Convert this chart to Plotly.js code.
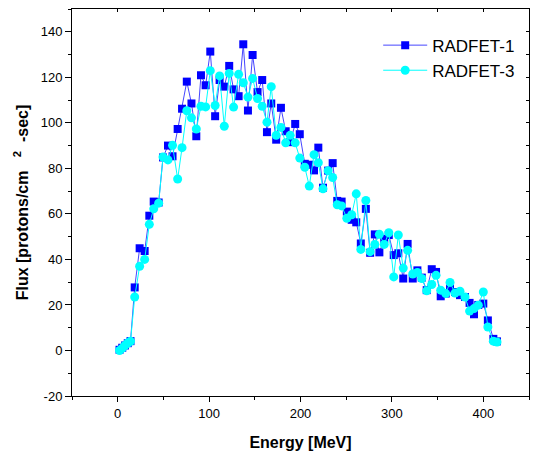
<!DOCTYPE html>
<html>
<head>
<meta charset="utf-8">
<script src="https://cdn.plot.ly/plotly-3.0.1.min.js"></script>
<style>html,body{margin:0;padding:0;background:#fff;}#chart{width:538px;height:458px;}</style>
</head>
<body>
<div id="chart"></div>
<script>
const energy = [2,5,8,11,14,18.6,24,29.5,34.6,39.4,44.8,49.6,55,60,65.6,70.4,75.6,80.7,86,91.1,96.2,101.3,106.6,111.5,116.6,122,126.8,132.3,137.4,142.5,147.6,153,158.1,163.3,168,173.4,178.6,183.8,188.7,194.2,199.2,204.7,209.6,214.8,219.5,224.6,230.2,235.2,240.2,245,250.7,256,261,266,271.5,276.2,281.3,286.3,291.6,296.6,302,307,312.4,317.2,322.8,327.9,332.7,338.1,343.6,348.3,353.4,358.9,363.6,369,374.5,380,385,389.8,394.5,400,405,411,415];
const radfet1 = [0.3,1.2,2.2,3.2,4.1,27.7,44.9,43.7,59.2,65.4,65,84.8,90,85.3,97.3,106.2,118.1,108.5,94.1,120.9,116.5,131.3,102.9,118.8,115.9,125,114.7,111.7,134.5,105.4,129.8,113.5,118.8,95.9,108.5,92.6,106.6,96.3,91.5,99.5,95,82,81.6,79.1,89.1,71.5,79,82.3,65.7,65.4,61,57.4,56.3,47,62.2,42.9,51,43.1,49,50.7,41.9,42.7,31.6,46.8,31.6,35.2,32,26.5,35.7,34.5,23.8,25,27.2,25.7,24.3,23.5,20.9,15.9,20,20.6,13.2,5.1,4];
const radfet3 = [0,1,2.2,3.3,4,23.5,37,40,55.4,62.2,64.7,85,83.7,90.1,75.3,89.1,105.3,102.2,97.3,107.3,107,122.9,107.6,120.6,98.5,121.7,106.9,121.3,117.6,111.3,119.5,110.7,107.3,100.3,115.9,94.5,98,91.2,94.5,91.2,84.5,80.5,72.2,86,82.5,71,79,76,64,63.5,58.1,59.6,68.8,44.4,65.9,43.4,46.6,51,46.6,51.7,32.3,50.7,36.2,44,33.6,34.3,31.6,26.2,29,33,26.5,25,29.9,25.2,26,23.5,17.3,18.4,19.9,25.7,10.3,4.1,3.7];
const seriesNames = ['RADFET-1','RADFET-3'];
const yTickVals = [-20,0,20,40,60,80,100,120,140];
const yTickText = ['-20','0','20','40','60','80','100','120','140'];
const xTickVals = [0,100,200,300,400];
const xTickText = ['0','100','200','300','400'];

const FONT = 'Liberation Sans, Arial, sans-serif';

const data = [
  {x: energy, y: radfet1, name: seriesNames[0], type: 'scatter', mode: 'lines+markers',
   line: {color: 'rgb(70,70,255)', width: 1},
   marker: {symbol: 'square', size: 8, color: '#0000FF', line: {width: 0}}},
  {x: energy, y: radfet3, name: seriesNames[1], type: 'scatter', mode: 'lines+markers',
   line: {color: '#00FFFF', width: 1},
   marker: {symbol: 'circle', size: 9, color: '#00FFFF', line: {width: 0}}},
  {x: [], y: [], xaxis: 'x2', yaxis: 'y2', showlegend: false, hoverinfo: 'skip', type: 'scatter'}
];

const layout = {
  width: 538, height: 458,
  margin: {l: 72, r: 9, t: 9, b: 62, pad: 0},
  paper_bgcolor: '#fff', plot_bgcolor: '#fff',
  font: {family: FONT, color: '#000', size: 13},
  showlegend: true,
  legend: {x: 0.67, y: 0.952, xanchor: 'left', yanchor: 'top', bgcolor: 'rgba(0,0,0,0)',
           borderwidth: 0, font: {family: FONT, size: 17, color: '#000'}, itemwidth: 44, tracegroupgap: 0},
  xaxis: {range: [-50, 450], tickmode: 'array', tickvals: xTickVals, ticktext: xTickText,
          ticks: 'outside', ticklen: 5, tickwidth: 1, tickcolor: '#000',
          showline: true, linecolor: '#000', linewidth: 1, showgrid: false, zeroline: false,
          minor: {dtick: 50, tick0: 0, ticks: 'outside', ticklen: 3, tickcolor: '#000', showgrid: false},
          tickfont: {family: FONT, size: 13},
          title: {text: '<b>Energy [MeV]</b>', font: {family: FONT, size: 16}, standoff: 17}},
  yaxis: {range: [-20, 150], tickmode: 'array', tickvals: yTickVals, ticktext: yTickText,
          ticks: 'outside', ticklen: 6, tickwidth: 1, tickcolor: '#000',
          showline: true, linecolor: '#000', linewidth: 1, showgrid: false, zeroline: false,
          minor: {dtick: 10, tick0: 0, ticks: 'outside', ticklen: 3, tickcolor: '#000', showgrid: false},
          tickfont: {family: FONT, size: 13},
          title: {text: '<b>Flux [protons/cm&nbsp;&nbsp;&nbsp;<sup>2</sup>&nbsp;&nbsp;-sec]</b>', font: {family: FONT, size: 16}, standoff: 8}},
  xaxis2: {overlaying: 'x', matches: 'x', side: 'top', anchor: 'y2', range: [-50, 450], tick0: 0, dtick: 50,
           ticks: 'inside', ticklen: 3, tickcolor: '#000', showticklabels: false,
           showline: true, linecolor: '#000', linewidth: 1, showgrid: false, zeroline: false},
  yaxis2: {overlaying: 'y', side: 'right', anchor: 'x2', range: [-20, 150], tick0: 0, dtick: 10,
           ticks: 'inside', ticklen: 3, tickcolor: '#000', showticklabels: false,
           showline: true, linecolor: '#000', linewidth: 1, showgrid: false, zeroline: false}
};

Plotly.newPlot('chart', data, layout, {staticPlot: true, displayModeBar: false});
</script>
</body>
</html>
